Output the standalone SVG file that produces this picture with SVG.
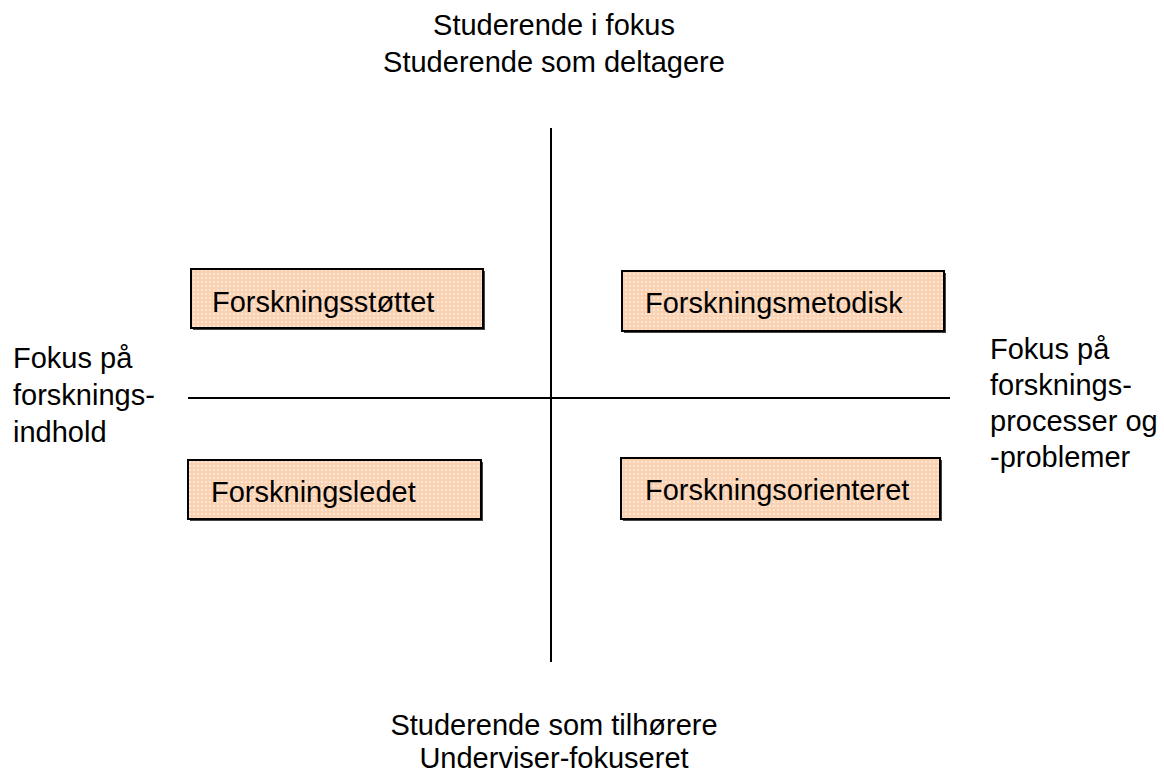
<svg xmlns="http://www.w3.org/2000/svg" width="1164" height="776" viewBox="0 0 1164 776">
<style>
text{font-family:"Liberation Sans",Arial,sans-serif;font-size:29px;fill:#000}
.box{fill:url(#dots);stroke:#000;stroke-width:2}
.shadow{fill:#444}
.axis{stroke:#000;stroke-width:2;fill:none}
</style>
<defs>
<pattern id="dots" width="4" height="4" patternUnits="userSpaceOnUse">
<rect width="4" height="4" fill="#FAD2B2"/>
<circle cx="2" cy="2" r="0.9" fill="#FFF1E6"/>
</pattern>
</defs>
<rect width="1164" height="776" fill="#fff"/>
<g id="connectors">
<line class="axis" x1="551" y1="128" x2="551" y2="662"/>
<line class="axis" x1="188" y1="398" x2="950" y2="398"/>
</g>
<g id="top-label">
<text x="554" y="35" text-anchor="middle">Studerende i fokus</text>
<text x="554" y="72" text-anchor="middle">Studerende som deltagere</text>
</g>
<g id="bottom-label">
<text x="554" y="735" text-anchor="middle">Studerende som tilhørere</text>
<text x="554" y="768" text-anchor="middle">Underviser-fokuseret</text>
</g>
<g id="left-label">
<text x="13" y="368">Fokus på</text>
<text x="13" y="405">forsknings-</text>
<text x="13" y="442">indhold</text>
</g>
<g id="right-label">
<text x="990" y="359">Fokus på</text>
<text x="990" y="395">forsknings-</text>
<text x="990" y="431">processer og</text>
<text x="990" y="467">-problemer</text>
</g>
<g id="node-forskningsstottet">
<rect class="shadow" x="193" y="271" width="292" height="59"/>
<rect class="box" x="191" y="269" width="292" height="59"/>
<text x="212" y="312">Forskningsstøttet</text>
</g>
<g id="node-forskningsmetodisk">
<rect class="shadow" x="624" y="273" width="322" height="60"/>
<rect class="box" x="622" y="271" width="322" height="60"/>
<text x="645" y="313">Forskningsmetodisk</text>
</g>
<g id="node-forskningsledet">
<rect class="shadow" x="190" y="462" width="293" height="59"/>
<rect class="box" x="188" y="460" width="293" height="59"/>
<text x="211" y="502">Forskningsledet</text>
</g>
<g id="node-forskningsorienteret">
<rect class="shadow" x="623" y="460" width="319" height="61"/>
<rect class="box" x="621" y="458" width="319" height="61"/>
<text x="645" y="500">Forskningsorienteret</text>
</g>
</svg>
